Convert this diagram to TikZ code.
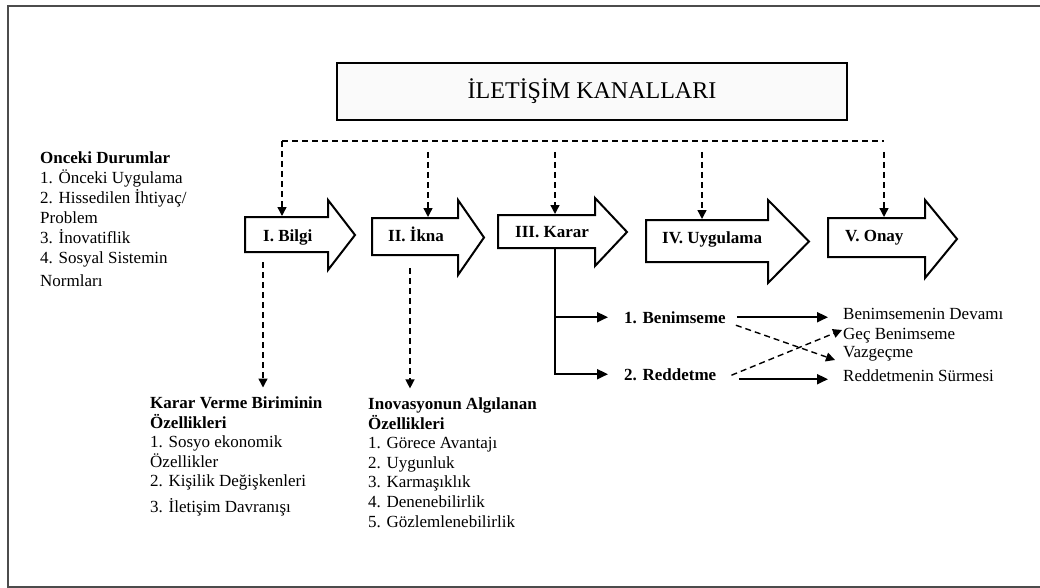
\documentclass[tikz,border=0pt]{standalone}
\usepackage{fontspec}
\setmainfont{Liberation Serif}
\usetikzlibrary{arrows.meta}

% block arrow: name, x left, x neck, x tip, body top, body bottom, head top, head bottom
\newcommand{\stagearrow}[8]{%
  \draw[stage] (#2,#5) -- (#3,#5) -- (#3,#7) -- (#4,{(#7+#8)/2}) -- (#3,#8) -- (#3,#6) -- (#2,#6) -- cycle;
  \coordinate (#1-nw) at (#2,#5);
}

\tikzset{
  stage/.style={draw, line width=2pt, fill=white, line join=miter},
  stagelabel/.style={anchor=base west, inner sep=0pt, font=\bfseries\fontsize{17}{20}\selectfont},
  txt/.style={anchor=base west, align=left, inner sep=0pt, font=\fontsize{17}{20}\selectfont},
  dasharrow/.style={dash pattern=on 6pt off 4pt, line width=1.4pt, -{Triangle[length=9pt,width=9pt]}},
  solidarrow/.style={line width=2pt, -{Triangle[length=11pt,width=10pt]}},
}

\begin{document}
\begin{tikzpicture}[x=1pt, y=-1pt]
		\useasboundingbox (0,0) rectangle (1040,588);
		\draw[gray!60!black, line width=1.8pt] (8,6) rectangle (1070,587);
		% title box
		\node[draw, line width=1.5pt, fill=gray!4, minimum width=510pt, minimum height=57pt, font=\fontsize{24}{28}\selectfont] (kanal) at (592,91.5) {İLETİŞİM KANALLARI};
		% stages
		\stagearrow{bilgi}{245}{328}{355}{217}{252}{200}{270}
		\stagearrow{ikna}{372}{458}{484}{218}{255}{200}{275}
		\stagearrow{karar}{498}{595}{627}{215}{248}{198}{266}
		\stagearrow{uyg}{646}{768}{809}{220}{262}{200}{283}
		\stagearrow{onay}{828}{925}{957}{218}{257}{200}{278}
		\node[stagelabel] (l-bilgi) at (263,241) {I. Bilgi};
		\node[stagelabel] (l-ikna) at (388,241) {II. İkna};
		\node[stagelabel] (l-karar) at (515,237) {III. Karar};
		\node[stagelabel] (l-uyg) at (662,243) {IV. Uygulama};
		\node[stagelabel] (l-onay) at (845,241) {V. Onay};
		% communication channels
		\coordinate (b1) at (282,141);
		\coordinate (b2) at (428,141);
		\coordinate (b3) at (555,141);
		\coordinate (b4) at (702,141);
		\coordinate (b5) at (884,141);
		\draw[dash pattern=on 6pt off 4pt, line width=1.4pt] (b1) -- (b5);
		\draw[dasharrow] (b1) -- ([yshift=1pt]b1 |- bilgi-nw);
		\draw[dasharrow] ([yshift=-11pt]b2) -- ([yshift=1pt]b2 |- ikna-nw);
		\draw[dasharrow] ([yshift=-11pt]b3) -- ([yshift=1pt]b3 |- karar-nw);
		\draw[dasharrow] ([yshift=-11pt]b4) -- ([yshift=1pt]b4 |- uyg-nw);
		\draw[dasharrow] ([yshift=-11pt]b5) -- ([yshift=1pt]b5 |- onay-nw);
		% texts (placed by the baseline of their last line)
		\node[txt] (onceki) at (40,286) {\textbf{Onceki Durumlar}\\1. Önceki Uygulama\\2. Hissedilen İhtiyaç/\\Problem\\3. İnovatiflik\\4. Sosyal Sistemin\\[3pt]Normları};
		\node[txt, font=\fontsize{17}{19.5}\selectfont] (birim) at (150,512) {\textbf{Karar Verme Biriminin}\\\textbf{Özellikleri}\\1. Sosyo ekonomik\\Özellikler\\2. Kişilik Değişkenleri\\[6pt]3. İletişim Davranışı};
		\node[txt, font=\fontsize{17}{19.6}\selectfont] (inov) at (368,527) {\textbf{Inovasyonun Algılanan}\\\textbf{Özellikleri}\\1. Görece Avantajı\\2. Uygunluk\\3. Karmaşıklık\\4. Denenebilirlik\\5. Gözlemlenebilirlik};
		\coordinate (bilgi-out) at (263,262);
		\coordinate (ikna-out) at (410,268);
		\draw[dasharrow] (bilgi-out) -- ([yshift=9pt]bilgi-out |- birim.north);
		\draw[dasharrow] (ikna-out) -- ([yshift=9pt]ikna-out |- inov.north);
		% decision
		\node[stagelabel] (benim) at (624,323) {1. Benimseme};
		\node[stagelabel] (redd) at (624,380) {2. Reddetme};
		\node[txt] (devam) at (843,319) {Benimsemenin Devamı};
		\node[txt] (gec) at (843,339) {Geç Benimseme};
		\node[txt] (vazgec) at (843,357) {Vazgeçme};
		\node[txt] (surme) at (843,381) {Reddetmenin Sürmesi};
		\coordinate (karar-out) at (555,248);
		\draw[solidarrow, shorten >=16pt] (karar-out) |- (benim.west);
		\draw[solidarrow, shorten >=16pt] (karar-out) |- (redd.west);
		\draw[solidarrow, shorten <=11pt, shorten >=15pt] (benim.east) -- (benim.east -| devam.west);
		\draw[solidarrow, shorten >=15pt] ([xshift=23pt,yshift=-5pt]redd.east) -- ([yshift=-5pt]redd.east -| surme.west);
		\draw[dasharrow] ([xshift=10pt,yshift=-8pt]benim.east) -- ([xshift=-8pt,yshift=-3pt]vazgec.base west);
		\draw[dasharrow] ([xshift=15pt,yshift=-1pt]redd.east) -- ([xshift=-1pt,yshift=9pt]gec.base west);
		\end{tikzpicture}
\end{document}
